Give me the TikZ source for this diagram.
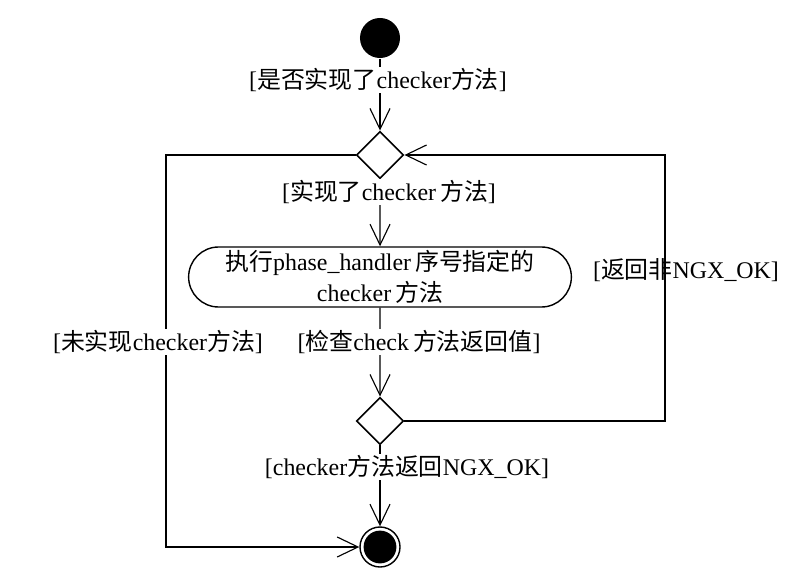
\documentclass[tikz,border=0pt]{standalone}
\usepackage{fontspec}
\usepackage{tikz}
\usetikzlibrary{arrows.meta,shapes.geometric,shapes.misc}
\setmainfont{Liberation Serif}
\newfontfamily\cjk{Noto Sans CJK SC}
\newcommand{\zh}[1]{{\cjk #1}}

\tikzset{
  guard/.style = {fill = white, inner sep = 1pt},
  choice/.style = {diamond, draw, line width = 1.2pt, minimum width = 1.18cm,
                   minimum height = 1.18cm, inner sep = 0pt},
  action/.style = {rounded rectangle, draw, line width = 1pt, minimum width = 9.8cm,
                   minimum height = 1.5cm, inner ysep = 1pt, align = center,
                   font = \fontsize{17}{22}\selectfont}
}

\begin{document}
\begin{tikzpicture}[x = 0.025cm, y = -0.025cm, font = \fontsize{17}{20}\selectfont,
                    line width = 0.8pt, >={Straight Barb[length = 5.2mm, width = 5mm]}]
            \useasboundingbox (0,0) rectangle (802,578);

            \node[circle, fill = black, minimum size = 1cm, inner sep = 0pt] (start) at (380,38) {};
            \node[choice] (check1) at (380,155) {};
            \node[action] (run) at (380,277) {\zh{执行}phase\_handler\,\zh{序号指定的}\\checker\,\zh{方法}};
            \node[choice] (check2) at (380,421) {};
            \node[circle, draw, line width = 1pt, minimum size = 1cm, inner sep = 0pt] (stop) at (380,547) {};
            \fill (stop.center) circle (0.41cm);

            \coordinate (lt) at (166,155);
            \coordinate (lb) at (166,547);
            \coordinate (rb) at (665,421);
            \coordinate (rt) at (665,155);

            \draw[->] (start) -- (check1);
            \draw[->] (check1) -- (run);
            \draw[->] (run) -- (check2);
            \draw[->] (check2) -- (stop);
            \draw[->] (check1.west) -- (lt) -- (lb) -- (stop.west);
            \draw[->] (check2.east) -- (rb) -- (rt) -- (check1.east);

            \node[guard] (g1) at (378,80) {[\zh{是否实现了}checker\zh{方法}]};
            \node[guard] (g2) at (389,192) {[\zh{实现了}checker\,\zh{方法}]};
            \node[guard] (g3) at (158,342) {[\zh{未实现}checker\zh{方法}]};
            \node[guard] (g4) at (419,342) {[\zh{检查}check\,\zh{方法返回值}]};
            \node (g5) at (686,270) {[\zh{返回非}NGX\_OK]};
            \node[guard] (g6) at (407,467) {[checker\zh{方法返回}NGX\_OK]};
        \end{tikzpicture}
\end{document}
